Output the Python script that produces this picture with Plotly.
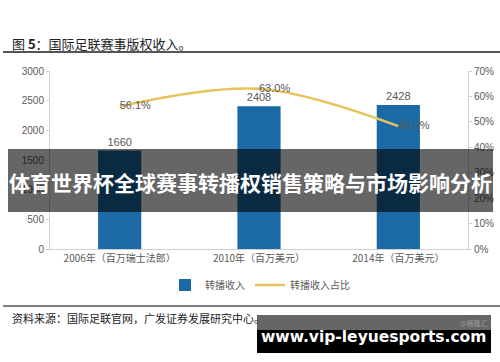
import plotly.graph_objects as go

categories = ["2006年（百万瑞士法郎）", "2010年（百万美元）", "2014年（百万美元）"]
revenue = [1660, 2408, 2428]
share = [0.561, 0.630, 0.483]
share_labels = ["56.1%", "63.0%", "48.3%"]

W, H = 500, 362
L, R, T, B = 50, 468, 71, 249  # plot area in px

def px(x):
    return (x - L) / (R - L)

def py(y):
    return (B - y) / (B - T)

FONT = "Noto Sans CJK SC, Liberation Sans, Arial, sans-serif"
NUM = "Liberation Sans, Arial, sans-serif"
AX = "#595959"

fig = go.Figure()
fig.add_trace(go.Bar(
    x=categories, y=revenue, name="转播收入",
    marker=dict(color="#1B6AA5", line=dict(width=0)),
    width=0.31, text=[str(v) for v in revenue], textposition="outside",
    textfont=dict(size=11, color=AX, family=NUM),
    cliponaxis=False,
))
fig.add_trace(go.Scatter(
    x=categories, y=share, name="转播收入占比", yaxis="y2",
    mode="lines+text", line=dict(color="#E6C35C", width=2.5, shape="spline"),
    text=share_labels, textposition="middle right",
    textfont=dict(size=11, color=AX, family=NUM),
    cliponaxis=False,
))

fig.update_layout(
    template="none",
    width=W, height=H, autosize=False,
    margin=dict(l=L, r=W - R, t=T, b=H - B, autoexpand=False),
    paper_bgcolor="white", plot_bgcolor="white",
    font=dict(family=FONT, color=AX),
    showlegend=True,
    legend=dict(orientation="h", x=px(260), xanchor="center", y=py(285), yanchor="middle",
                font=dict(size=10, color=AX), itemwidth=30, bgcolor="rgba(0,0,0,0)"),
    xaxis=dict(showline=True, linecolor="#d0d0d0", linewidth=1, showgrid=False, automargin=False,
               ticks="", tickfont=dict(size=10, color=AX), zeroline=False),
    yaxis=dict(range=[0, 3000], dtick=500, showgrid=False, showline=True, automargin=False,
               linecolor="#d0d0d0", ticks="outside", ticklen=3, tickcolor="#d0d0d0",
               tickfont=dict(size=10, color=AX, family=NUM), zeroline=False),
    yaxis2=dict(range=[0, 0.7], dtick=0.1, tickformat=".0%", overlaying="y", side="right",
                showgrid=False, showline=True, linecolor="#d0d0d0", ticks="outside",
                ticklen=3, tickcolor="#d0d0d0", automargin=False,
                tickfont=dict(size=10, color=AX, family=NUM), zeroline=False),
)

shapes = []
annotations = []
# Title and separators
annotations.append(dict(xref="paper", yref="paper", x=px(10), y=py(44), xanchor="left", yanchor="middle",
                        text="图 <b>5</b>：国际足联赛事版权收入。", showarrow=False,
                        font=dict(size=13, color="#222", family=FONT)))
shapes.append(dict(type="line", xref="paper", yref="paper", x0=px(3), x1=px(500), y0=py(52), y1=py(52),
                   line=dict(color="#555", width=2)))
shapes.append(dict(type="line", xref="paper", yref="paper", x0=px(3), x1=px(500), y0=py(306), y1=py(306),
                   line=dict(color="#555", width=1.5)))
annotations.append(dict(xref="paper", yref="paper", x=px(10), y=py(318), xanchor="left", yanchor="middle",
                        text="资料来源：国际足联官网，广发证券发展研究中心。", showarrow=False,
                        font=dict(size=11, color="#222", family=FONT)))
# Watermark band
shapes.append(dict(type="rect", xref="paper", yref="paper", x0=px(8), x1=px(493), y0=py(149), y1=py(212),
                   fillcolor="rgba(0,0,0,0.6)", line=dict(width=0), layer="above"))
annotations.append(dict(xref="paper", yref="paper", x=px(250), y=py(182), xanchor="center", yanchor="middle",
                        text="<b>体育世界杯全球赛事转播权销售策略与市场影响分析</b>", showarrow=False,
                        font=dict(size=21, color="white", family=FONT)))
# Website box
shapes.append(dict(type="rect", xref="paper", yref="paper", x0=px(257), x1=px(491), y0=py(315), y1=py(330),
                   fillcolor="rgba(0,0,0,0.6)", line=dict(width=0), layer="above"))
shapes.append(dict(type="rect", xref="paper", yref="paper", x0=px(257), x1=px(491), y0=py(330), y1=py(353),
                   fillcolor="black", line=dict(width=0), layer="above"))
annotations.append(dict(xref="paper", yref="paper", x=px(373), y=py(337), xanchor="center", yanchor="middle",
                        text="<b>www.vip-leyuesports.com</b>", showarrow=False,
                        font=dict(size=15.5, color="white", family="DejaVu Sans, Liberation Sans")))
annotations.append(dict(xref="paper", yref="paper", x=px(490), y=py(323), xanchor="right", yanchor="middle",
                        text="@格隆汇", showarrow=False,
                        font=dict(size=7, color="#999", family=FONT)))

fig.update_layout(shapes=shapes, annotations=annotations)
fig.write_html("out.html", config={"displayModeBar": False},
               post_script="document.body.style.margin='0px';")
